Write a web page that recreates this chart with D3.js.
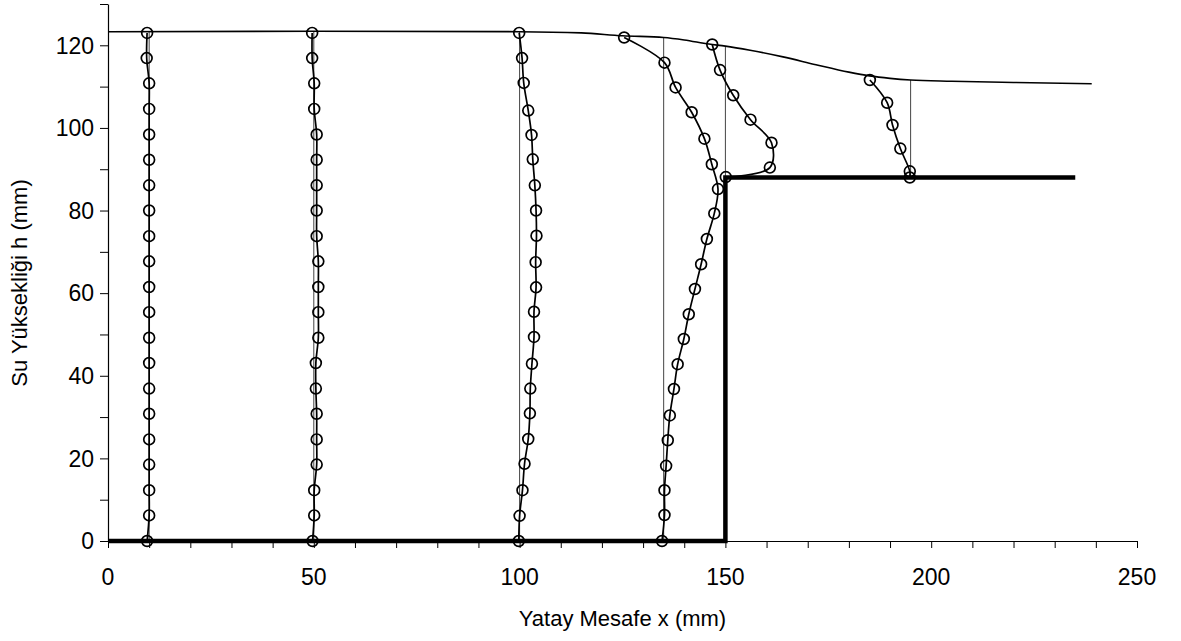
<!DOCTYPE html>
<html>
<head>
<meta charset="utf-8">
<script src="https://cdn.jsdelivr.net/npm/d3@7"></script>
<style>
  html, body { margin: 0; padding: 0; background: #fff; }
  svg text { font-family: "Liberation Sans", Arial, Helvetica, sans-serif; fill: #000; }
</style>
</head>
<body>
<svg id="chart" width="1181" height="641"></svg>
<script>
// Velocity-profile survey over a broad-crested step: measurement stations,
// measured profile points (x, h), free surface and channel bed.

const xTicks = [0, 50, 100, 150, 200, 250];
const yTicks = [0, 20, 40, 60, 80, 100, 120];

// Station x = 10 mm
const h10 = [0, 6.2, 12.3, 18.5, 24.6, 30.8, 36.9, 43.1, 49.2, 55.4, 61.5, 67.7, 73.8, 80.0, 86.1, 92.3, 98.4, 104.6, 110.8, 116.9, 123.0];
const x10 = [9.5, 10.0, 10.0, 10.0, 10.0, 10.0, 10.0, 10.0, 10.0, 10.0, 10.0, 10.0, 10.0, 10.0, 10.0, 10.0, 10.0, 10.0, 10.0, 9.4, 9.5];

// Station x = 50 mm
const h50 = [0, 6.2, 12.3, 18.5, 24.6, 30.8, 36.9, 43.1, 49.2, 55.4, 61.5, 67.7, 73.8, 80.0, 86.1, 92.3, 98.4, 104.6, 110.8, 116.9, 123.0];
const x50 = [49.7, 50.1, 50.1, 50.7, 50.7, 50.7, 50.5, 50.5, 51.1, 51.1, 51.1, 51.1, 50.7, 50.7, 50.7, 50.7, 50.7, 50.1, 50.1, 49.6, 49.6];

// Station x = 100 mm
const h100 = [0, 6.1, 12.3, 18.7, 24.7, 30.9, 36.9, 42.9, 49.4, 55.5, 61.4, 67.5, 73.9, 80.0, 86.1, 92.4, 98.3, 104.2, 110.9, 116.9, 123.0];
const x100 = [99.8, 100.0, 100.7, 101.2, 102.1, 102.5, 102.6, 103.0, 103.5, 103.5, 104.0, 103.9, 104.1, 104.0, 103.7, 103.2, 102.9, 102.1, 101.0, 100.6, 99.9];

// Station x = 135 mm
const h135 = [0, 6.3, 12.3, 18.2, 24.4, 30.4, 36.8, 42.8, 48.9, 54.9, 61.0, 67.0, 73.1, 79.3, 85.2, 91.2, 97.4, 103.8, 109.8, 115.8, 121.9];
const x135 = [134.6, 135.2, 135.2, 135.6, 136.0, 136.5, 137.5, 138.4, 139.9, 141.1, 142.6, 144.1, 145.5, 147.3, 148.2, 146.7, 144.9, 141.8, 137.9, 135.2, 125.4];

// Station x = 150 mm (step edge)
const h150 = [88.1, 90.4, 96.4, 102.0, 107.9, 114.0, 120.2];
const x150 = [150.1, 160.8, 161.2, 156.1, 151.9, 148.7, 146.8];

// Station x = 195 mm
const h195 = [88.0, 89.5, 95.0, 100.7, 106.1, 111.6];
const x195 = [194.8, 194.8, 192.5, 190.6, 189.3, 185.1];

// Measurement verticals: station x, bottom and top elevation
const stationX = [10, 50, 100, 135, 150, 195];
const stationBottom = [0, 0, 0, 0, 88, 88];
const stationTop = [123.3, 123.4, 123.3, 121.9, 119.8, 111.6];

// Free surface
const surfaceX = [0, 50, 100, 115, 125, 135, 140, 146, 150, 156, 164, 172, 180, 185, 190, 195, 205, 220, 239];
const surfaceH = [123.3, 123.4, 123.3, 123.0, 122.3, 121.9, 121.3, 120.3, 119.8, 118.8, 117.2, 115.3, 113.5, 112.6, 112.0, 111.6, 111.3, 111.0, 110.7];

// Channel bed with the step
const bedX = [0, 150, 150, 235];
const bedH = [0, 0, 88, 88];

const svg = d3.select("#chart");
const x = d3.scaleLinear().domain([0, 250]).range([108, 1137]);
const y = d3.scaleLinear().domain([0, 130]).range([541, 4]);

const TICK_FS = 23;
const TITLE_FS = 22;

// Axes
const xAxis = d3.axisBottom(x).tickValues(d3.range(0, 251, 10)).tickSize(7).tickSizeOuter(0).tickFormat(() => "");
const gx = svg.append("g").attr("transform", `translate(0,${y(0)})`).call(xAxis);
const yAxis = d3.axisLeft(y).tickValues(d3.range(0, 131, 10)).tickSize(8).tickSizeOuter(0).tickFormat(() => "");
const gy = svg.append("g").attr("transform", `translate(${x(0)},0)`).call(yAxis);
[gx, gy].forEach(g => {
  g.select(".domain").attr("stroke", "#000").attr("stroke-width", 1.2);
  g.selectAll(".tick line").attr("stroke", "#000").attr("stroke-width", 1);
});

svg.append("g").selectAll("text").data(xTicks).join("text")
  .attr("x", d => x(d)).attr("y", 585)
  .attr("text-anchor", "middle").attr("font-size", TICK_FS)
  .text(d => d);

svg.append("g").selectAll("text").data(yTicks).join("text")
  .attr("x", 94).attr("y", d => y(d))
  .attr("dy", "0.36em")
  .attr("text-anchor", "end").attr("font-size", TICK_FS)
  .text(d => d);

svg.append("text")
  .attr("x", (x(0) + x(250)) / 2).attr("y", 626)
  .attr("text-anchor", "middle").attr("font-size", TITLE_FS)
  .text("Yatay Mesafe x (mm)");

svg.append("text")
  .attr("transform", "translate(27,283) rotate(-90)")
  .attr("text-anchor", "middle").attr("font-size", TITLE_FS)
  .text("Su Yüksekliği h (mm)");

// Measurement verticals
svg.append("g").selectAll("line").data(stationX).join("line")
  .attr("x1", d => x(d)).attr("x2", d => x(d))
  .attr("y1", (d, i) => y(stationBottom[i])).attr("y2", (d, i) => y(stationTop[i]))
  .attr("stroke", "#444").attr("stroke-width", 1);

// Free surface
const surface = surfaceX.map((d, i) => [d, surfaceH[i]]);
svg.append("path")
  .datum(surface)
  .attr("d", d3.line().x(d => x(d[0])).y(d => y(d[1])).curve(d3.curveMonotoneX))
  .attr("fill", "none").attr("stroke", "#000").attr("stroke-width", 1.6);

// Bed
const bed = bedX.map((d, i) => [d, bedH[i]]);
svg.append("path")
  .datum(bed)
  .attr("d", d3.line().x(d => x(d[0])).y(d => y(d[1])))
  .attr("fill", "none").attr("stroke", "#000").attr("stroke-width", 4.5)
  .attr("stroke-linejoin", "miter");

// Profiles
const profiles = [
  [x10, h10], [x50, h50], [x100, h100], [x135, h135], [x150, h150], [x195, h195]
].map(([xs, hs]) => xs.map((d, i) => [d, hs[i]]));

const profileLine = d3.line().x(d => x(d[0])).y(d => y(d[1])).curve(d3.curveCatmullRom.alpha(0.5));

const gp = svg.append("g");
profiles.forEach(pts => {
  gp.append("path").datum(pts)
    .attr("d", profileLine)
    .attr("fill", "none").attr("stroke", "#000").attr("stroke-width", 1.7);
  gp.append("g").selectAll("circle").data(pts).join("circle")
    .attr("cx", d => x(d[0])).attr("cy", d => y(d[1]))
    .attr("r", 5.4)
    .attr("fill", "none").attr("stroke", "#000").attr("stroke-width", 1.7);
});
</script>
</body>
</html>
